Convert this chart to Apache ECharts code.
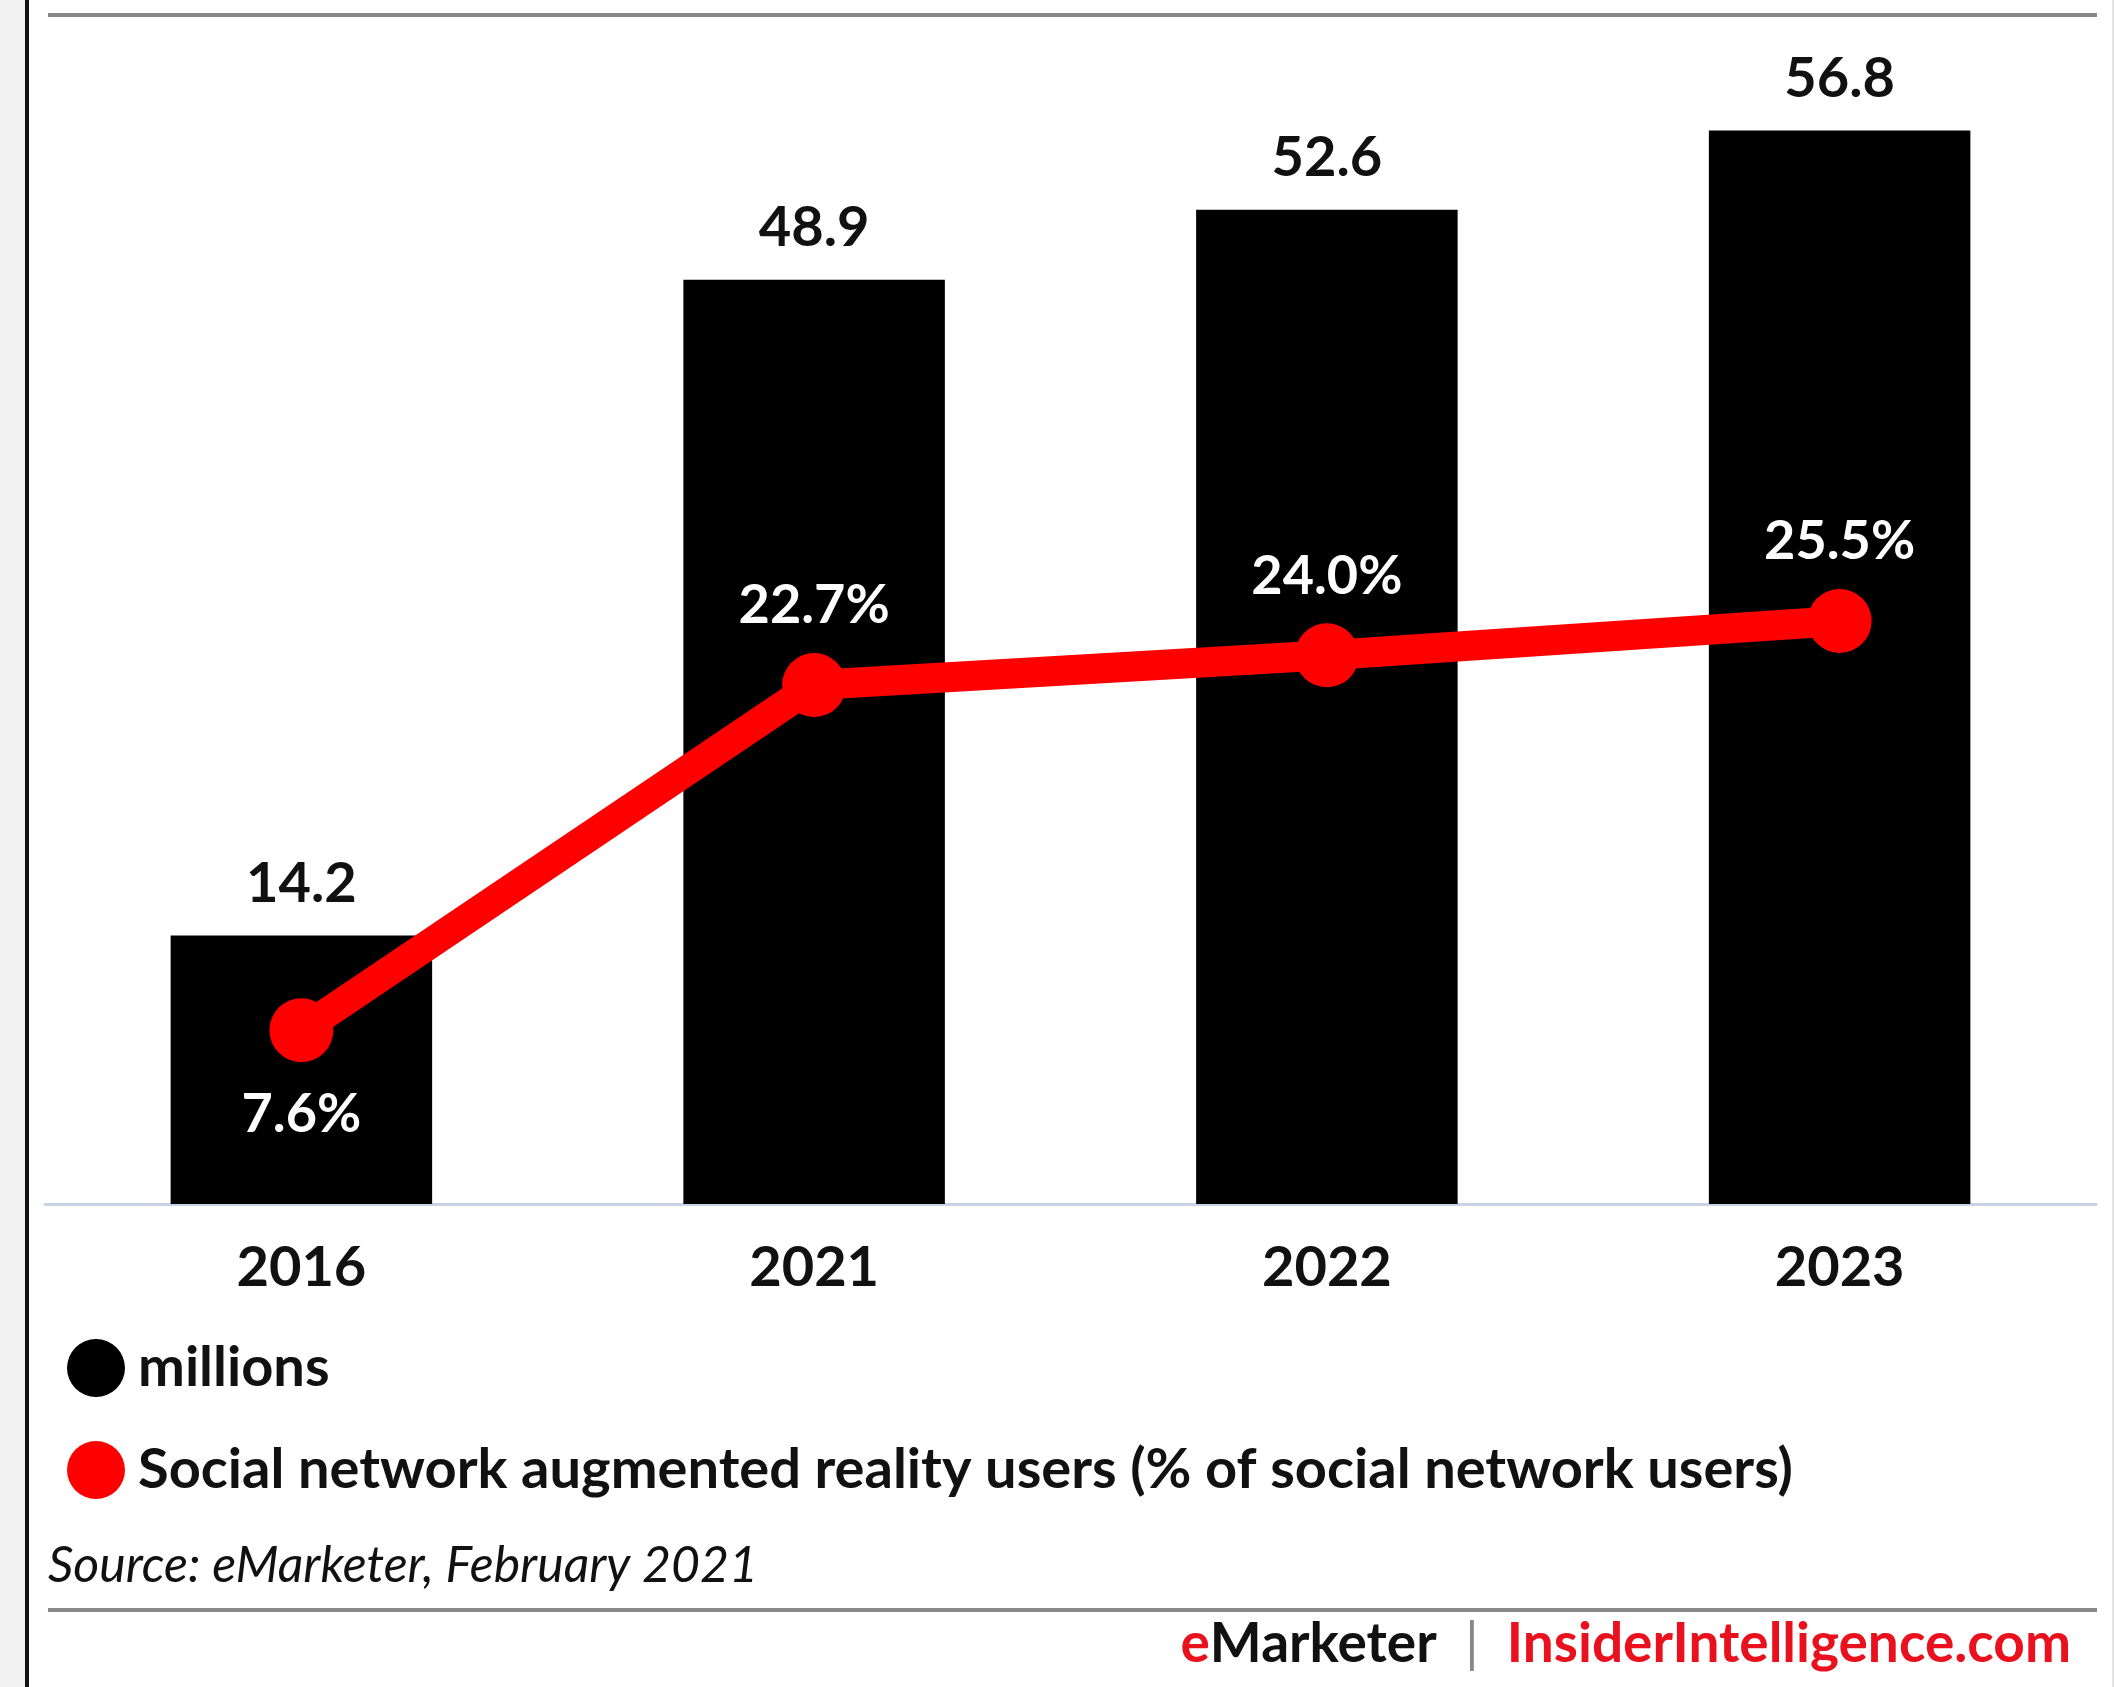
<!DOCTYPE html>
<html>
<head>
<meta charset="utf-8">
<script src="https://cdn.jsdelivr.net/npm/echarts@6/dist/echarts.min.js"></script>
<style>
html,body{margin:0;padding:0;background:#fff;}
#chart{width:2115px;height:1687px;}
</style>
</head>
<body>
<div id="chart"></div>
<script>
const categories = ['2016', '2021', '2022', '2023'];
const usersMillions = [14.2, 48.9, 52.6, 56.8];
const sharePct = [7.6, 22.7, 24.0, 25.5];
const seriesNames = ['millions', 'Social network augmented reality users (% of social network users)'];
const sourceText = 'Source: eMarketer, February 2021';

const FONT = 'Lato';
const chart = echarts.init(document.getElementById('chart'), null, {renderer: 'canvas'});
chart.setOption({
  backgroundColor: '#fff',
  animation: false,
  grid: {left: 45, right: 19, top: 70, bottom: 483},
  legend: {
    orient: 'vertical', left: 62, top: 1334,
    icon: 'circle', itemWidth: 58, itemHeight: 58, itemGap: 44,
    textStyle: {fontFamily: FONT, fontWeight: 'bold', fontSize: 56, color: '#111', padding: [0, 0, 0, 8]},
    data: seriesNames
  },
  xAxis: {
    type: 'category', data: categories,
    axisLine: {lineStyle: {color: '#c9d2e6', width: 3}},
    axisTick: {show: false},
    axisLabel: {fontFamily: FONT, fontWeight: 'bold', fontSize: 56, color: '#111', margin: 36}
  },
  yAxis: [
    {type: 'value', min: 0, max: 60, show: false, splitLine: {show: false}},
    {type: 'value', min: 0, max: 49.6, show: false, splitLine: {show: false}}
  ],
  series: [
    {
      name: seriesNames[0], type: 'bar', data: usersMillions, barWidth: '51%',
      itemStyle: {color: '#000'},
      label: {show: true, position: 'top', distance: 24, fontFamily: FONT, fontWeight: 'bold', fontSize: 56, color: '#111',
        formatter: p => p.value.toFixed(1)}
    },
    {
      name: seriesNames[1], type: 'line', yAxisIndex: 1,
      data: sharePct.map((v, i) => i === 0 ? {value: v, label: {position: 'bottom', distance: 25}} : v),
      symbol: 'circle', symbolSize: 64,
      lineStyle: {color: '#ff0000', width: 30},
      itemStyle: {color: '#ff0000'},
      label: {show: true, position: 'top', distance: 20, fontFamily: FONT, fontWeight: 'bold', fontSize: 54, color: '#fff',
        formatter: p => Number(p.value).toFixed(1) + '%'},
      z: 3
    }
  ],
  graphic: [
    {type: 'rect', left: 0, top: 0, shape: {width: 25, height: 1687}, style: {fill: '#f2f2f2'}, silent: true},
    {type: 'rect', left: 25, top: 0, shape: {width: 4, height: 1687}, style: {fill: '#111'}, silent: true},
    {type: 'rect', left: 2112, top: 0, shape: {width: 2, height: 1687}, style: {fill: '#e4e4e4'}, silent: true},
    {type: 'rect', left: 48, top: 13, shape: {width: 2049, height: 4}, style: {fill: '#888'}, silent: true},
    {type: 'rect', left: 48, top: 1608, shape: {width: 2049, height: 4}, style: {fill: '#888'}, silent: true},
    {type: 'text', left: 48, top: 1541, style: {text: sourceText, fontFamily: FONT, fontStyle: 'italic', fontSize: 50, fill: '#111'}},
    {type: 'text', right: 44, top: 1617, style: {
      text: '{r|e}{k|Marketer}{g|  |  }{r|InsiderIntelligence.com}',
      rich: {
        r: {fontFamily: FONT, fontWeight: 'bold', fontSize: 55, fill: '#e8111d'},
        k: {fontFamily: FONT, fontWeight: 'bold', fontSize: 55, fill: '#111'},
        g: {fontFamily: FONT, fontSize: 55, fill: '#888'}
      }
    }}
  ]
});
</script>
</body>
</html>
